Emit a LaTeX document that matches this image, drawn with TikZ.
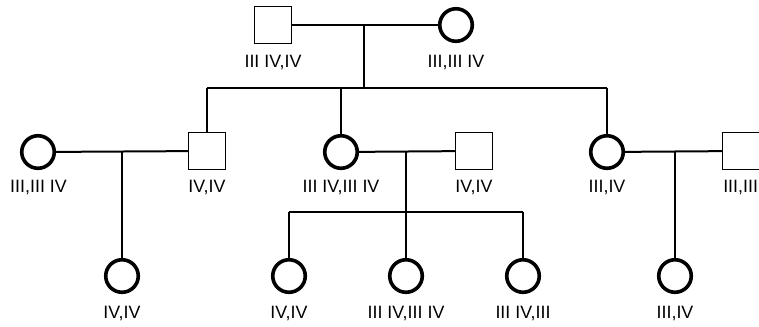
\documentclass[tikz,border=0pt]{standalone}
\usepackage{fontspec}
\setmainfont{Liberation Sans}
\begin{document}
\begin{tikzpicture}[x=0.75pt,y=-0.75pt,
  female/.style={circle,draw,line width=2.7pt,minimum size=24.4pt,inner sep=0pt},
  male/.style={rectangle,draw,line width=1.1pt,minimum size=27.4pt,inner sep=0pt},
  link/.style={line width=1.5pt},
  lab/.style={font=\fontsize{13.4pt}{15pt}\selectfont,inner sep=0pt}]
\useasboundingbox (0,0) rectangle (759,326);
\clip (0,0) rectangle (759,326);

% generation I
\node[male]   (gf) at (273,25) {};
\node[female] (gm) at (456,25) {};
\node[lab] at (273,62.5) {III IV,IV};
\node[lab] at (456,62.5) {III,III IV};

% generation II
\node[female] (w1) at (38,152) {};
\node[male]   (s1) at (207,151) {};
\node[female] (d2) at (341,152) {};
\node[male]   (h2) at (474,151) {};
\node[female] (d3) at (607,152) {};
\node[male]   (h3) at (741,151) {};
\node[lab] at (38.5,187) {III,III IV};
\node[lab] at (207,187) {IV,IV};
\node[lab] at (341,187) {III IV,III IV};
\node[lab] at (474,187) {IV,IV};
\node[lab] at (607,187) {III,IV};
\node[lab,anchor=west] at (723,187) {III,III IV};

% generation III
\node[female] (c1) at (122,276) {};
\node[female] (c2) at (289,276) {};
\node[female] (c3) at (406,276) {};
\node[female] (c4) at (523,276) {};
\node[female] (c5) at (675,276) {};
\node[lab] at (122,313) {IV,IV};
\node[lab] at (289,313) {IV,IV};
\node[lab] at (406,313) {III IV,III IV};
\node[lab] at (523,313) {III IV,III};
\node[lab] at (675,313) {III,IV};

% junction points
\coordinate (m0) at (364,25);
\coordinate (k0) at (364,88);
\coordinate (kL) at (207,88);
\coordinate (kM) at (341,88);
\coordinate (kR) at (607,88);
\coordinate (m1) at (122,151);
\coordinate (m2) at (406,151);
\coordinate (k2) at (406,212);
\coordinate (k2L) at (289,212);
\coordinate (k2R) at (523,212);
\coordinate (m3) at (675,151);

% couples
\draw[link] (gf) -- (gm);
\draw[link] (w1) -- (s1);
\draw[link] (d2) -- (h2);
\draw[link] (d3) -- (h3);

% descent lines
\draw[link] (m0) -- (k0);
\draw[link] (kL) -- (kR);
\draw[link] (kL) -- (s1);
\draw[link] (kM) -- (d2);
\draw[link] (kR) -- (d3);
\draw[link] (m1) -- (c1);
\draw[link] (m2) -- (k2);
\draw[link] (k2L) -- (k2R);
\draw[link] (k2L) -- (c2);
\draw[link] (k2) -- (c3);
\draw[link] (k2R) -- (c4);
\draw[link] (m3) -- (c5);
\end{tikzpicture}
\end{document}
